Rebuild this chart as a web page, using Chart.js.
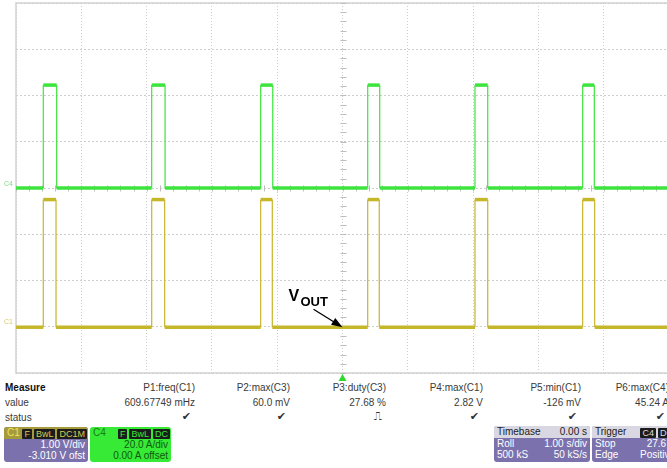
<!DOCTYPE html>
<html>
<head>
<meta charset="utf-8">
<script src="https://cdn.jsdelivr.net/npm/chart.js@4/dist/chart.umd.min.js"></script>
<style>
  body { margin:0; width:667px; height:468px; overflow:hidden; position:relative; background:#fff;
         font-family:"Liberation Sans", Arial, sans-serif; }
  #wrap { position:absolute; left:0; top:0; width:700px; height:382px; }
  .t { position:absolute; font-size:10px; color:#3a3a3a; white-space:nowrap; line-height:12px; }
  .r { text-align:right; }
  .box { position:absolute; border-radius:3px; overflow:hidden; font-size:10px; line-height:11px; }
  .hdr { height:12px; position:relative; }
  .row { position:relative; height:11px; padding:0 3px; }
  .row span { position:absolute; }
  .tag { display:inline-block; background:#1c1c1c; padding:0 2px; margin-left:2px; font-size:9px; line-height:10px; border-radius:1px; }
</style>
</head>
<body>
<div id="wrap"><canvas id="scope"></canvas></div>

<div class="t" style="left:5px;top:382px;font-weight:bold;color:#111">Measure</div>
<div class="t" style="left:5px;top:397px">value</div>
<div class="t" style="left:5px;top:412px">status</div>
<div id="meas"></div>

<div class="box" style="left:4px;top:427px;width:84px;height:35px;background:#7b72ad">
  <div class="hdr" style="background:#a59a3c;color:#f0e45c">
    <span style="position:absolute;left:3px;top:0">C1</span>
    <span style="position:absolute;right:1px;top:1px;color:#d6ca52"><span class="tag">F</span><span class="tag">BwL</span><span class="tag">DC1M</span></span>
  </div>
  <div class="row" style="color:#fff"><span style="right:3px">1.00 V/div</span></div>
  <div class="row" style="color:#fff"><span style="right:3px">-3.010 V ofst</span></div>
</div>

<div class="box" style="left:90px;top:427px;width:81px;height:35px;background:#36ea36">
  <div class="hdr" style="color:#1c7a1c">
    <span style="position:absolute;left:3px;top:0">C4</span>
    <span style="position:absolute;right:1px;top:1px;color:#36ea36"><span class="tag">F</span><span class="tag">BwL</span><span class="tag">DC</span></span>
  </div>
  <div class="row" style="color:#0f5a0f"><span style="right:3px">20.0 A/div</span></div>
  <div class="row" style="color:#0f5a0f"><span style="right:3px">0.00 A offset</span></div>
</div>

<div class="box" style="left:494px;top:426px;width:96px;height:36px;background:#7b72ad">
  <div class="hdr" style="background:#d9d7e2;color:#222">
    <span style="position:absolute;left:3px;top:0">Timebase</span>
    <span style="position:absolute;right:3px;top:0">0.00 s</span>
  </div>
  <div class="row" style="color:#fff"><span style="left:3px">Roll</span><span style="right:3px">1.00 s/div</span></div>
  <div class="row" style="color:#fff"><span style="left:3px">500 kS</span><span style="right:3px">50 kS/s</span></div>
</div>

<div class="box" style="left:592px;top:426px;width:86px;height:36px;background:#7b72ad">
  <div class="hdr" style="background:#d9d7e2;color:#222">
    <span style="position:absolute;left:3px;top:0">Trigger</span>
    <span style="position:absolute;right:3px;top:1px;color:#ddd"><span class="tag">C4</span><span class="tag">DC</span></span>
  </div>
  <div class="row" style="color:#fff"><span style="left:3px">Stop</span><span style="right:3px">27.6 A</span></div>
  <div class="row" style="color:#fff"><span style="left:3px">Edge</span><span style="right:3px">Positive</span></div>
</div>

<script>
// scope settings: 1 s/div, 10 div wide, 8 div tall
const xMin = -5, xMax = 5
const c1Scale = 1.0, c1Offset = -3.010   // V/div, V
const c4Scale = 20.0, c4Offset = 0.0     // A/div, A

// pulse edges (seconds)
const riseTimes = [-4.582, -2.922, -1.253, 0.386, 2.029, 3.678]
const fallTimes = [-4.387, -2.723, -1.075, 0.563, 2.224, 3.862]
const c4FallTimes = [-4.377, -2.717, -1.068, 0.570, 2.224, 3.856]

const c1Low = 0.0, c1High = 2.76     // V
const c4Low = 0.0, c4High = 44.5     // A

// measurement table
const measNames  = ['P1:freq(C1)', 'P2:max(C3)', 'P3:duty(C3)', 'P4:max(C1)', 'P5:min(C1)', 'P6:max(C4)']
const measValues = ['609.67749 mHz', '60.0 mV', '27.68 %', '2.82 V', '-126 mV', '45.24 A']
const measStatus = ['\u2714', '\u2714', '\u238D', '\u2714', '\u2714', '\u2714']
const measRight  = [195, 290, 386, 483, 581, 669]

let html = ''
for (let i = 0; i < measNames.length; i++) {
    let left = measRight[i] - 120
    html += `<div class="t r" style="left:${left}px;width:120px;top:382px">${measNames[i]}</div>`
    html += `<div class="t r" style="left:${left}px;width:120px;top:397px">${measValues[i]}</div>`
    html += `<div class="t r" style="left:${left}px;width:116px;top:411px;font-family:'DejaVu Sans';font-size:11px;color:#333">${measStatus[i]}</div>`
}
document.getElementById('meas').innerHTML = html

function stepTrace(rises, falls, low, high) {
    let pts = [{x: xMin, y: low}]
    for (let i = 0; i < rises.length; i++) {
        pts.push({x: rises[i], y: low}, {x: rises[i], y: high})
        pts.push({x: falls[i], y: high}, {x: falls[i], y: low})
    }
    pts.push({x: xMax, y: low})
    return pts
}

const flatThick = (ctx) => ctx.p0.parsed.y === ctx.p1.parsed.y ? 3.5 : 1.2

const scopeDecor = {
    id: 'scopeDecor',
    beforeDatasetsDraw(chart) {
        const {ctx, chartArea: a, scales} = chart
        const xs = scales.x, yg = scales.yg
        ctx.save()
        // frame
        ctx.strokeStyle = '#d2d2d2'
        ctx.lineWidth = 1.5
        ctx.strokeRect(a.left, a.top, a.right - a.left, a.bottom - a.top)
        // small ticks on the centre cross, 5 per division
        ctx.strokeStyle = '#bdbdbd'
        ctx.lineWidth = 1
        const cx = Math.round(xs.getPixelForValue(0)) + 0.5
        const cy = Math.round(yg.getPixelForValue(0)) + 0.5
        ctx.beginPath()
        for (let v = -4; v <= 4.001; v += 0.2) {
            let y = Math.round(yg.getPixelForValue(v)) + 0.5
            ctx.moveTo(cx - 3, y); ctx.lineTo(cx + 3, y)
        }
        for (let v = -5; v <= 5.001; v += 0.2) {
            let x = Math.round(xs.getPixelForValue(v)) + 0.5
            ctx.moveTo(x, cy - 3); ctx.lineTo(x, cy + 3)
        }
        ctx.stroke()
        ctx.restore()
    },
    afterDraw(chart) {
        const {ctx, chartArea: a, scales} = chart
        const xs = scales.x
        ctx.save()
        // channel markers on the left
        ctx.font = '7px "Liberation Sans", Arial'
        ctx.textBaseline = 'middle'
        ctx.fillStyle = '#7ee07e'
        ctx.fillText('C4', 4, scales.y4.getPixelForValue(c4Offset) - 4)
        ctx.fillStyle = '#d6cc6a'
        ctx.fillText('C1', 4, scales.y1.getPixelForValue(0) - 5)

        // trigger marker below the grid
        const tx = xs.getPixelForValue(0)
        ctx.fillStyle = '#2fd82f'
        ctx.beginPath()
        ctx.moveTo(tx, a.bottom + 1)
        ctx.lineTo(tx - 4, a.bottom + 8)
        ctx.lineTo(tx + 4, a.bottom + 8)
        ctx.closePath()
        ctx.fill()

        // VOUT label with arrow pointing at C1 trace
        const px = xs.getPixelForValue(0), py = scales.y1.getPixelForValue(c1Low)
        ctx.fillStyle = '#000'
        ctx.textBaseline = 'alphabetic'
        ctx.font = 'bold 16px "Liberation Sans", Arial'
        ctx.fillText('V', px - 54, py - 26)
        ctx.font = 'bold 13px "Liberation Sans", Arial'
        ctx.fillText('OUT', px - 42, py - 21)
        const sx = px - 29, sy = py - 18
        const ang = Math.atan2(py - sy, px - sx)
        ctx.strokeStyle = '#000'
        ctx.lineWidth = 1.3
        ctx.beginPath()
        ctx.moveTo(sx, sy)
        ctx.lineTo(px - 9 * Math.cos(ang), py - 9 * Math.sin(ang))
        ctx.stroke()
        ctx.beginPath()
        ctx.moveTo(px, py)
        ctx.lineTo(px - 11 * Math.cos(ang) + 4 * Math.sin(ang), py - 11 * Math.sin(ang) - 4 * Math.cos(ang))
        ctx.lineTo(px - 11 * Math.cos(ang) - 4 * Math.sin(ang), py - 11 * Math.sin(ang) + 4 * Math.cos(ang))
        ctx.closePath()
        ctx.fill()
        ctx.restore()
    }
}

const ctx = document.getElementById('scope').getContext('2d')
const scope = new Chart(ctx, {
    type: 'line',
    data: {
        datasets: [
            {
                label: 'C4',
                data: stepTrace(riseTimes, c4FallTimes, c4Low, c4High),
                yAxisID: 'y4',
                borderColor: '#3ee43e',
                borderWidth: 3.5,
                segment: {borderWidth: flatThick},
                pointRadius: 0,
                tension: 0
            },
            {
                label: 'C1',
                data: stepTrace(riseTimes, fallTimes, c1Low, c1High),
                yAxisID: 'y1',
                borderColor: '#c6b62a',
                borderWidth: 3.5,
                segment: {borderWidth: flatThick},
                pointRadius: 0,
                tension: 0
            }
        ]
    },
    options: {
        responsive: true,
        maintainAspectRatio: false,
        animation: false,
        layout: {padding: {left: 16, top: 3, right: 31, bottom: 9}},
        plugins: {legend: {display: false}, tooltip: {enabled: false}},
        scales: {
            x: {
                type: 'linear', min: xMin, max: xMax,
                ticks: {display: false, stepSize: 1},
                grid: {color: '#cdcdcd', drawTicks: false},
                border: {display: false, dash: [1, 2]},
                afterFit(s) { s.height = 0 }
            },
            yg: {
                position: 'left', min: -4, max: 4,
                ticks: {display: false, stepSize: 1},
                grid: {color: '#cdcdcd', drawTicks: false},
                border: {display: false, dash: [2, 2]},
                afterFit(s) { s.width = 0 }
            },
            y1: {display: false, min: -4 * c1Scale - c1Offset, max: 4 * c1Scale - c1Offset},
            y4: {display: false, min: -4 * c4Scale - c4Offset, max: 4 * c4Scale - c4Offset}
        }
    },
    plugins: [scopeDecor]
})
</script>
</body>
</html>
